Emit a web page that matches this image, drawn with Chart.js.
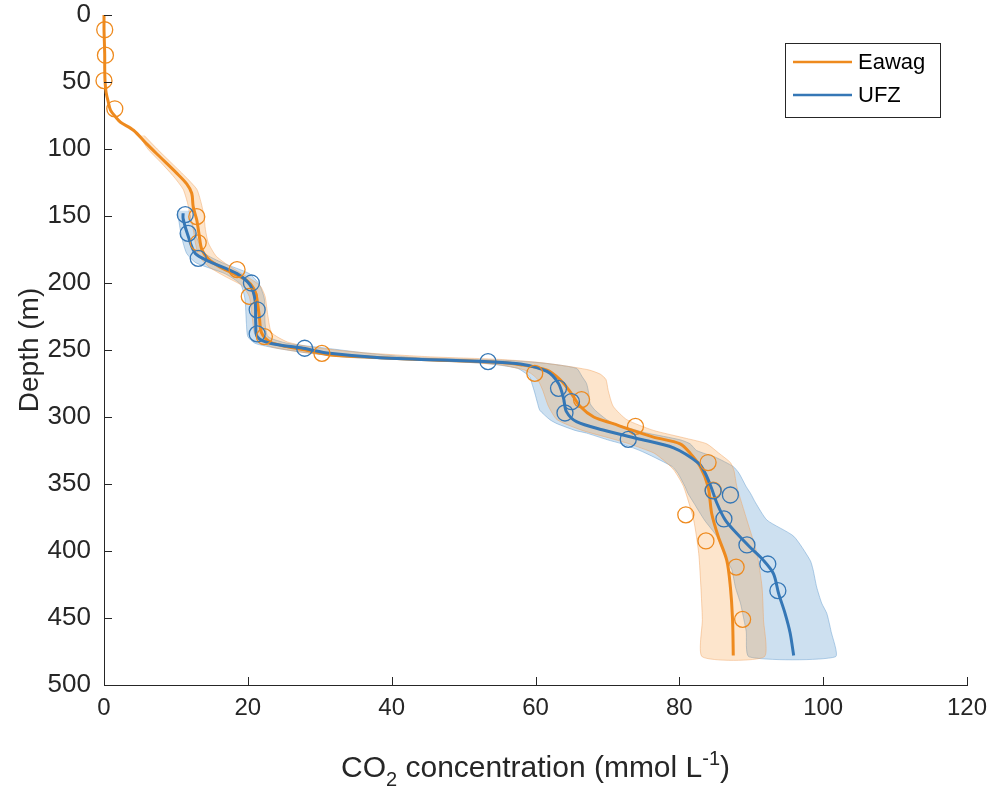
<!DOCTYPE html>
<html>
<head>
<meta charset="utf-8">
<script src="https://cdn.jsdelivr.net/npm/chart.js@4.4.1/dist/chart.umd.min.js"></script>
<style>
  html, body { margin: 0; padding: 0; background: #fff; }
</style>
</head>
<body>
<canvas id="profileChart" width="995" height="790"></canvas>
<script>
// CO2 profiles (x = CO2 in mmol/L, y = depth in m)
const seriesNames = ['Eawag', 'UFZ'];

const eawagDepth = [0, 10, 20, 30, 40, 50, 58, 65, 71, 76, 80, 86, 96, 106, 118, 126, 133, 143, 153, 163, 175,
  182, 188, 193, 198, 204, 210, 225, 237, 244, 247.5, 250, 253.7, 255.7, 257.5, 259, 261, 265, 272, 281, 292,
  300, 305, 310, 315, 320, 327, 337, 352, 372, 389, 407, 427, 451, 478];
const eawagCo2 = [0, 0, 0.05, 0.1, 0.1, 0.15, 0.3, 0.6, 0.9, 1.6, 2.3, 4.1, 5.9, 7.8, 10.1, 11.5, 12.2, 12.4, 12.9, 13.2, 13.6,
  14.5, 16.1, 18.0, 19.8, 20.8, 21.2, 21.6, 21.9, 23.1, 25.4, 28, 31.4, 38.4, 46, 54, 57.9, 61.6, 63.4, 64.8, 66.2,
  68.1, 70.8, 73.5, 76.4, 80.1, 81.5, 82.9, 84, 84.5, 85.4, 86.6, 87.1, 87.4, 87.5];

const ufzDepth = [148, 152, 165, 178, 184, 193, 201.5, 212.7, 230, 240, 245, 248.7, 252.5, 255.7, 258.7, 260.4, 266,
  275, 286, 296, 303.5, 309.7, 316, 323, 334.6, 342, 352, 364, 377, 387, 397, 407, 417, 431.6, 446.5, 461, 478];
const ufzCo2 = [11.0, 11.0, 11.7, 12.7, 14.7, 18.5, 20.3, 21.0, 21.1, 21.3, 23.1, 27.7, 31.4, 38.4, 53.4, 57.9, 61.6,
  63.2, 63.9, 64.3, 65.7, 69.4, 74.1, 79.2, 82.7, 83.6, 84.4, 85.2, 86.4, 88.0, 89.8, 91.7, 93.1, 93.8, 94.7, 95.4, 95.9];

// uncertainty bands
const eawagBandDepth = [90, 100, 110, 120, 130, 140, 150, 160, 170, 180, 188, 195, 202, 210, 225, 237, 244, 248, 252, 255,
  257, 259, 261, 263, 265, 268, 272, 280, 292, 302, 310, 316, 320, 327, 334, 340, 352, 377, 402, 427, 451, 479];
const eawagBandLow = [4.9, 6.1, 7.9, 9.6, 11.0, 11.6, 12.0, 12.4, 12.7, 13.2, 14.6, 16.8, 19.2, 20.2, 20.6, 20.9, 21.8, 23.5, 28, 34,
  42, 50, 55, 57, 58.5, 59.5, 60.3, 61, 61.8, 63, 66.5, 70.5, 73, 76.5, 78.2, 79.3, 80.6, 82.0, 82.7, 83.0, 83.2, 83.2];
const eawagBandHigh = [5.6, 7.4, 9.3, 11.2, 12.9, 13.5, 13.9, 14.1, 14.5, 15.6, 17.6, 19.8, 21.7, 22.4, 22.8, 23.3, 25.5, 29, 36, 45,
  55, 60, 63, 65.5, 67.5, 69, 69.8, 70.1, 70.8, 72.7, 76.4, 81, 83.8, 85.5, 87.1, 87.6, 88.0, 89.4, 90.8, 91.5, 91.7, 91.8];

const ufzBandDepth = [146, 160, 170, 178, 185, 193, 201, 212, 230, 240, 245, 248.7, 252, 255.5, 258, 260, 263.7, 270, 275, 282,
  290, 295, 302, 305, 310, 312, 317, 320, 325, 330, 337, 342, 352, 357, 364, 377, 389, 407, 414, 427, 439, 446.5, 460, 479];
const ufzBandLow = [10.2, 10.6, 11.0, 11.5, 12.8, 16.8, 19.0, 19.6, 19.8, 20.0, 21.0, 24, 28, 34, 45, 53, 57.5, 59.2, 59.5, 59.9,
  60.3, 60.6, 62, 63, 65.5, 67.1, 70, 72, 74.5, 76.5, 79, 79.8, 80.8, 81.2, 82.0, 83.5, 85.2, 86.6, 87.3, 87.8, 88.5, 88.8, 89.3, 89.7];
const ufzBandHigh = [11.8, 12.5, 13.2, 14.0, 16.5, 20.2, 21.6, 22.3, 22.4, 22.8, 25.5, 31, 36, 43, 57, 61.5, 65.7, 66.5, 67.1, 67.4,
  67.6, 68.3, 69.9, 71, 74.1, 75.5, 80.1, 81.5, 82.4, 85, 87.5, 88.3, 89.3, 89.9, 90.6, 92.2, 95.9, 98.2, 98.6, 99.1, 99.8, 100.5, 101.1, 101.7];

// measured samples (circles)
const eawagObsDepth = [11, 30, 49, 70, 150.5, 170, 190, 210, 240, 252.5, 267.4, 287, 307, 334, 354.5, 373, 392.5, 412, 451];
const eawagObsCo2 = [0.1, 0.2, 0, 1.5, 12.9, 13.1, 18.5, 20.2, 22.3, 30.3, 59.9, 66.4, 73.9, 84.0, 84.7, 80.9, 83.7, 87.9, 88.8];
const ufzObsDepth = [149, 163, 181.6, 200, 220, 238, 248.7, 258.7, 278.6, 288.6, 297, 316.7, 355.2, 358.2, 376.1, 395.5, 409.7, 429.6];
const ufzObsCo2 = [11.3, 11.7, 13.1, 20.5, 21.3, 21.3, 27.9, 53.4, 63.2, 65.0, 64.1, 72.9, 84.7, 87.1, 86.2, 89.4, 92.3, 93.7];

const xTicks = [0, 20, 40, 60, 80, 100, 120];
const yTicks = [0, 50, 100, 150, 200, 250, 300, 350, 400, 450, 500];

const ORANGE = '#EE8A1E';
const BLUE = '#3577B6';
const FONT = '"Liberation Sans", Arial, sans-serif';
const TEXT = '#262626';

function toPoints(xs, ys) {
  return xs.map((v, i) => ({ x: v, y: ys[i] }));
}

// closed outline: low edge going down, high edge coming back up
function bandShape(depth, low, high) {
  const down = depth.map((d, i) => ({ x: low[i], y: d }));
  const up = depth.map((d, i) => ({ x: high[i], y: d })).reverse();
  return down.concat(up);
}

const axisExtras = {
  id: 'axisExtras',
  afterDraw(chart) {
    const { ctx, scales: { x, y } } = chart;
    ctx.save();

    // inward tick marks
    ctx.strokeStyle = TEXT;
    ctx.lineWidth = 1;
    x.ticks.forEach(t => {
      const px = Math.round(x.getPixelForValue(t.value)) + 0.5;
      ctx.beginPath();
      ctx.moveTo(px, y.bottom);
      ctx.lineTo(px, y.bottom - 8);
      ctx.stroke();
    });
    y.ticks.forEach(t => {
      const py = Math.round(y.getPixelForValue(t.value)) + 0.5;
      ctx.beginPath();
      ctx.moveTo(x.left, py);
      ctx.lineTo(x.left + 8, py);
      ctx.stroke();
    });

    // x axis title with subscript / superscript
    const parts = [
      { t: 'CO', size: 30, dy: 0 },
      { t: '2', size: 20, dy: 9 },
      { t: ' concentration (mmol L', size: 30, dy: 0 },
      { t: '-1', size: 20, dy: -12 },
      { t: ')', size: 30, dy: 0 }
    ];
    let total = 0;
    parts.forEach(p => {
      ctx.font = p.size + 'px ' + FONT;
      p.w = ctx.measureText(p.t).width;
      total += p.w;
    });
    let cx = (x.left + x.right) / 2 - total / 2;
    const base = 777;
    ctx.fillStyle = TEXT;
    ctx.textBaseline = 'alphabetic';
    ctx.textAlign = 'left';
    parts.forEach(p => {
      ctx.font = p.size + 'px ' + FONT;
      ctx.fillText(p.t, cx, base + p.dy);
      cx += p.w;
    });

    // legend box
    const bx = 785, by = 43, bw = 155, bh = 74;
    ctx.fillStyle = '#fff';
    ctx.fillRect(bx, by, bw, bh);
    ctx.strokeStyle = TEXT;
    ctx.lineWidth = 1;
    ctx.strokeRect(bx + 0.5, by + 0.5, bw, bh);
    const legendColors = [ORANGE, BLUE];
    seriesNames.forEach((name, i) => {
      const ly = 62 + i * 33;
      ctx.strokeStyle = legendColors[i];
      ctx.lineWidth = 2.5;
      ctx.beginPath();
      ctx.moveTo(793, ly);
      ctx.lineTo(852, ly);
      ctx.stroke();
      ctx.fillStyle = '#000';
      ctx.font = '22px ' + FONT;
      ctx.textBaseline = 'middle';
      ctx.fillText(name, 858, ly + 1);
    });

    ctx.restore();
  }
};

const ctx = document.getElementById('profileChart');
new Chart(ctx, {
  type: 'scatter',
  data: {
    datasets: [
      {
        label: seriesNames[1] + ' samples',
        data: toPoints(ufzObsCo2, ufzObsDepth),
        pointRadius: 8,
        pointBorderWidth: 1.3,
        pointBackgroundColor: 'rgba(0,0,0,0)',
        pointBorderColor: BLUE,
        clip: false,
        order: 0
      },
      {
        label: seriesNames[0] + ' samples',
        data: toPoints(eawagObsCo2, eawagObsDepth),
        pointRadius: 8,
        pointBorderWidth: 1.3,
        pointBackgroundColor: 'rgba(0,0,0,0)',
        pointBorderColor: ORANGE,
        clip: false,
        order: 1
      },
      {
        label: seriesNames[1],
        data: toPoints(ufzCo2, ufzDepth),
        showLine: true,
        borderColor: BLUE,
        borderWidth: 3,
        pointRadius: 0,
        tension: 0.3,
        order: 2
      },
      {
        label: seriesNames[0],
        data: toPoints(eawagCo2, eawagDepth),
        showLine: true,
        borderColor: ORANGE,
        borderWidth: 3,
        pointRadius: 0,
        tension: 0.3,
        clip: false,
        order: 3
      },
      {
        label: seriesNames[0] + ' range',
        data: bandShape(eawagBandDepth, eawagBandLow, eawagBandHigh),
        showLine: true,
        fill: 'shape',
        backgroundColor: 'rgba(247,150,50,0.25)',
        borderColor: 'rgba(240,160,90,0.45)',
        borderWidth: 1,
        pointRadius: 0,
        tension: 0.2,
        order: 4
      },
      {
        label: seriesNames[1] + ' range',
        data: bandShape(ufzBandDepth, ufzBandLow, ufzBandHigh),
        showLine: true,
        fill: 'shape',
        backgroundColor: 'rgba(70,140,200,0.27)',
        borderColor: 'rgba(90,150,205,0.45)',
        borderWidth: 1,
        pointRadius: 0,
        tension: 0.2,
        order: 5
      }
    ]
  },
  options: {
    responsive: false,
    animation: false,
    layout: { padding: { left: 0, top: 15, right: 28, bottom: 0 } },
    plugins: {
      legend: { display: false },
      tooltip: { enabled: false }
    },
    scales: {
      x: {
        type: 'linear',
        min: 0,
        max: 120,
        afterBuildTicks: s => { s.ticks = xTicks.map(v => ({ value: v })); },
        afterFit: s => { s.height = 105; s.paddingLeft = 0; s.paddingRight = 0; },
        grid: { drawOnChartArea: false, drawTicks: false },
        border: { display: true, color: TEXT, width: 1 },
        ticks: { color: TEXT, padding: 9, maxRotation: 0, font: { family: FONT, size: 24 } }
      },
      y: {
        type: 'linear',
        reverse: true,
        min: 0,
        max: 500,
        afterBuildTicks: s => { s.ticks = yTicks.map(v => ({ value: v })); },
        afterFit: s => { s.width = 104; s.paddingTop = 0; s.paddingBottom = 0; },
        grid: { drawOnChartArea: false, drawTicks: false },
        border: { display: true, color: TEXT, width: 1 },
        ticks: { color: TEXT, padding: 13, font: { family: FONT, size: 26 } },
        title: {
          display: true,
          text: 'Depth (m)',
          color: TEXT,
          padding: { top: 13, bottom: 0 },
          font: { family: FONT, size: 28 }
        }
      }
    }
  },
  plugins: [axisExtras]
});
</script>
</body>
</html>
